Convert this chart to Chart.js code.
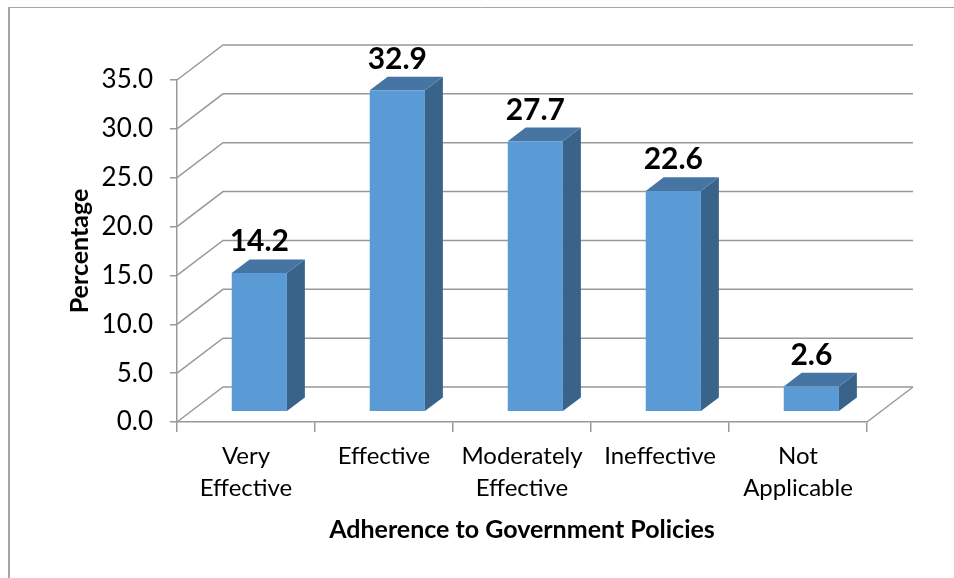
<!DOCTYPE html>
<html>
<head>
<meta charset="utf-8">
<script src="https://cdn.jsdelivr.net/npm/chart.js@4.4.1/dist/chart.umd.min.js"></script>
<style>
  html, body { margin: 0; padding: 0; background: #fff; }
  #wrap { position: relative; width: 954px; height: 578px; }
</style>
</head>
<body>
<div id="wrap"><canvas id="chart" width="954" height="578"></canvas></div>
<script>
const categories = [['Very', 'Effective'], 'Effective', ['Moderately', 'Effective'], 'Ineffective', ['Not', 'Applicable']];
const percentages = [14.2, 32.9, 27.7, 22.6, 2.6];
const yMin = 0;
const yMax = 35;
const yStep = 5;

// oblique projection: vector from the front plane to the back wall
const DEPTH = { dx: 46, dy: -35 };
const BAR_FRONT = 0.29;   // where the bar's front face sits along the depth
const BAR_DEPTH = 0.39;   // how deep each bar is
const LINE = '#999999';
const FONT = 'Lato, "Open Sans", sans-serif';

const frame = {
  id: 'frame',
  beforeDraw(chart) {
    const ctx = chart.ctx;
    ctx.save();
    ctx.strokeStyle = '#a6a6a6';
    ctx.lineWidth = 2;
    ctx.beginPath();
    ctx.moveTo(9, 7);
    ctx.lineTo(9, chart.height + 5);
    ctx.stroke();
    ctx.lineWidth = 1;
    ctx.beginPath();
    ctx.moveTo(8, 7.5);
    ctx.lineTo(chart.width + 5, 7.5);
    ctx.stroke();
    ctx.restore();
  }
};

const box3d = {
  id: 'box3d',
  beforeDatasetsDraw(chart) {
    // back wall gridlines, left wall diagonals and the floor
    const { ctx, chartArea: a, scales: { y } } = chart;
    ctx.save();
    ctx.strokeStyle = LINE;
    ctx.lineWidth = 1.5;
    y.ticks.forEach(t => {
      const py = y.getPixelForValue(t.value);
      ctx.beginPath();
      ctx.moveTo(a.left, py);
      ctx.lineTo(a.left + DEPTH.dx, py + DEPTH.dy);
      ctx.lineTo(a.right + DEPTH.dx, py + DEPTH.dy);
      ctx.stroke();
    });
    const py0 = y.getPixelForValue(yMin);
    ctx.beginPath();
    ctx.moveTo(a.right + DEPTH.dx, py0 + DEPTH.dy);
    ctx.lineTo(a.right, py0);
    ctx.stroke();
    ctx.restore();
  },
  beforeDatasetDraw() {
    return false;
  },
  afterDatasetsDraw(chart) {
    const ctx = chart.ctx;
    const meta = chart.getDatasetMeta(0);
    const fx = DEPTH.dx * BAR_FRONT, fy = DEPTH.dy * BAR_FRONT;
    const sx = DEPTH.dx * BAR_DEPTH, sy = DEPTH.dy * BAR_DEPTH;
    const poly = (pts, color) => {
      ctx.beginPath();
      pts.forEach(([px, py], i) => i ? ctx.lineTo(px, py) : ctx.moveTo(px, py));
      ctx.closePath();
      ctx.fillStyle = color;
      ctx.fill();
    };
    ctx.save();
    meta.data.forEach((bar, i) => {
      const { x, y, base, width } = bar.getProps(['x', 'y', 'base', 'width'], true);
      const l = x - width / 2 + fx, r = x + width / 2 + fx;
      const t = y + fy, b = base + fy;
      poly([[r, b], [r, t], [r + sx, t + sy], [r + sx, b + sy]], '#3a6389');
      poly([[l, t], [r, t], [r + sx, t + sy], [l + sx, t + sy]], '#4675a4');
      poly([[l, t], [r, t], [r, b], [l, b]], '#5b9bd5');

      ctx.fillStyle = '#000';
      ctx.font = 'bold 30px ' + FONT;
      ctx.textAlign = 'center';
      ctx.textBaseline = 'alphabetic';
      ctx.fillText(percentages[i].toFixed(1), x + fx, t + sy - 8);
    });
    ctx.restore();
  }
};

new Chart(document.getElementById('chart'), {
  type: 'bar',
  data: {
    labels: categories,
    datasets: [{
      data: percentages,
      backgroundColor: '#5b9bd5',
      categoryPercentage: 0.8,
      barPercentage: 0.5
    }]
  },
  options: {
    responsive: false,
    animation: false,
    layout: { padding: { top: 80, right: 87, left: 0, bottom: 0 } },
    plugins: {
      legend: { display: false },
      tooltip: { enabled: false }
    },
    scales: {
      x: {
        afterFit: s => { s.height = 156; },
        grid: { drawOnChartArea: false, tickLength: 10, color: LINE, lineWidth: 1.5 },
        border: { color: LINE, width: 1.5 },
        ticks: { color: '#000', font: { family: FONT, size: 24, lineHeight: 1.33 }, padding: 8, maxRotation: 0 },
        title: {
          display: true,
          text: 'Adherence to Government Policies',
          color: '#000',
          font: { family: FONT, size: 25, weight: 'bold', lineHeight: 1.2 },
          padding: { top: 0, bottom: 33 }
        }
      },
      y: {
        min: yMin,
        max: yMax,
        afterFit: s => { s.width = 177; },
        grid: { drawOnChartArea: false, tickLength: 7, color: LINE, lineWidth: 1.5 },
        border: { color: LINE, width: 1.5 },
        ticks: {
          stepSize: yStep,
          color: '#000',
          font: { family: FONT, size: 26 },
          padding: 17,
          callback: v => v.toFixed(1)
        },
        title: {
          display: true,
          text: 'Percentage',
          color: '#000',
          font: { family: FONT, size: 25, weight: 'bold', lineHeight: 1.2 },
          padding: { top: 65, bottom: 0 }
        }
      }
    }
  },
  plugins: [frame, box3d]
});
</script>
</body>
</html>
